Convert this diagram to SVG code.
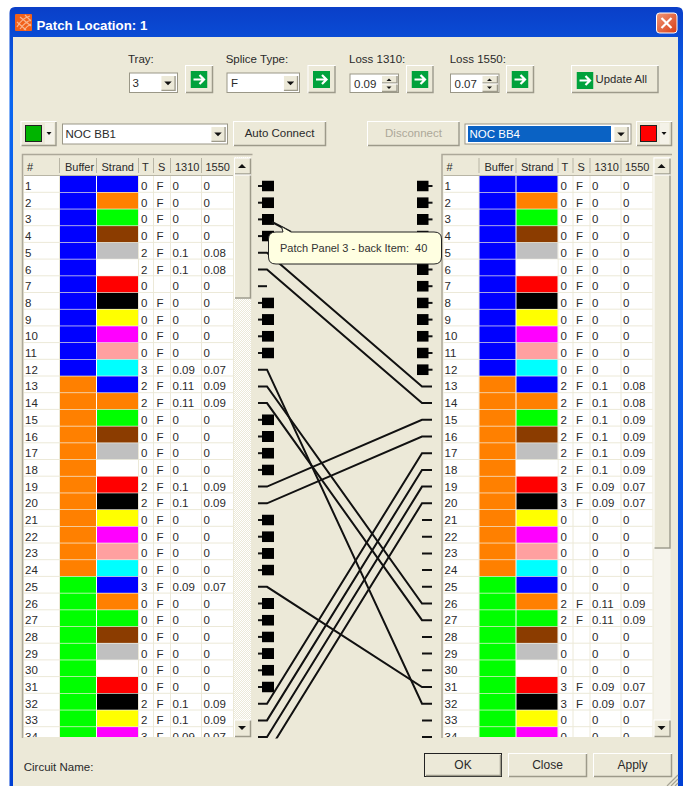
<svg xmlns="http://www.w3.org/2000/svg" xmlns:xlink="http://www.w3.org/1999/xlink" width="686" height="786" viewBox="0 0 686 786">
<style>
text{font-family:"Liberation Sans",Arial,sans-serif;font-size:11.5px;fill:#2a2a2a}
.ui{font-size:11.5px}
.hd{font-size:11px}
.panel{fill:#ece9d8}
.btn{fill:#ece9d8;stroke:#fff;stroke-width:1}
.sh{fill:none;stroke:#9d9a8a;stroke-width:1.5}
.inset{fill:#fff;stroke:#9a9787;stroke-width:1}
.tri{fill:#111}
.sep{stroke:#ece9d8;stroke-width:1;fill:none}
.hsep{stroke:#b8b5a5;stroke-width:1;fill:none}
.wire{fill:none;stroke:#111;stroke-width:2}
.bl{fill:#0000ff}.or{fill:#ff8000}.gr{fill:#00ff00}.br{fill:#8b3c00}.ga{fill:#c0c0c0}.wh{fill:#fff}.re{fill:#ff0000}.ka{fill:#000}.ye{fill:#ffff00}.ma{fill:#ff00ff}.pi{fill:#ffa0a0}.cy{fill:#00ffff}
</style>
<defs>
<linearGradient id="title" x1="0" y1="0" x2="0" y2="1">
<stop offset="0" stop-color="#0a3fc8"/><stop offset=".12" stop-color="#0a66f0"/><stop offset=".5" stop-color="#0a58e6"/><stop offset="1" stop-color="#0040d4"/>
</linearGradient>
<linearGradient id="close" x1="0" y1="0" x2="1" y2="1"><stop offset="0" stop-color="#f09878"/><stop offset="1" stop-color="#d83c14"/></linearGradient>
<pattern id="track" width="2" height="2" patternUnits="userSpaceOnUse"><rect width="2" height="2" fill="#ece9d8"/><rect width="1" height="1" fill="#fff"/><rect x="1" y="1" width="1" height="1" fill="#fff"/></pattern>
<symbol id="go" viewBox="0 0 17 17" width="17" height="17"><rect width="17" height="17" fill="#00a23c"/><path d="M3 8.5H13M9 4l4.5 4.5L9 13" fill="none" stroke="#fff" stroke-width="2.2"/></symbol>
<symbol id="down" viewBox="0 0 16 17" width="16" height="17"><rect x=".5" y=".5" width="15" height="16" class="btn"/><path d="M15.5 1V16.5H1" class="sh"/><path d="M4 7h8l-4 4z" class="tri"/></symbol>
<symbol id="sl" viewBox="0 0 16 11" width="16" height="11"><rect y="4.5" width="5" height="2" fill="#111"/><rect x="4" width="12" height="11" fill="#000"/></symbol>
<symbol id="sr" viewBox="0 0 16 11" width="16" height="11"><rect x="11" y="4.500" width="4.500" height="2" fill="#111"/><rect width="11.5" height="11" fill="#000"/></symbol>
<clipPath id="gridclip"><rect x="24" y="176" width="209" height="561"/></clipPath>
<clipPath id="wireclip"><rect x="250" y="170" width="190" height="568.5"/></clipPath>
<g id="cells">
<rect x="60" y="176" width="36" height="16" class="bl"/><rect x="97" y="176" width="41" height="16" class="bl"/>
<rect x="60" y="192.7" width="36" height="16" class="bl"/><rect x="97" y="192.7" width="41" height="16" class="or"/>
<rect x="60" y="209.4" width="36" height="16" class="bl"/><rect x="97" y="209.4" width="41" height="16" class="gr"/>
<rect x="60" y="226.1" width="36" height="16" class="bl"/><rect x="97" y="226.1" width="41" height="16" class="br"/>
<rect x="60" y="242.8" width="36" height="16" class="bl"/><rect x="97" y="242.8" width="41" height="16" class="ga"/>
<rect x="60" y="259.5" width="36" height="16" class="bl"/><rect x="97" y="259.5" width="41" height="16" class="wh"/>
<rect x="60" y="276.2" width="36" height="16" class="bl"/><rect x="97" y="276.2" width="41" height="16" class="re"/>
<rect x="60" y="292.9" width="36" height="16" class="bl"/><rect x="97" y="292.9" width="41" height="16" class="ka"/>
<rect x="60" y="309.6" width="36" height="16" class="bl"/><rect x="97" y="309.6" width="41" height="16" class="ye"/>
<rect x="60" y="326.3" width="36" height="16" class="bl"/><rect x="97" y="326.3" width="41" height="16" class="ma"/>
<rect x="60" y="343" width="36" height="16" class="bl"/><rect x="97" y="343" width="41" height="16" class="pi"/>
<rect x="60" y="359.7" width="36" height="16" class="bl"/><rect x="97" y="359.7" width="41" height="16" class="cy"/>
<rect x="60" y="376.4" width="36" height="16" class="or"/><rect x="97" y="376.4" width="41" height="16" class="bl"/>
<rect x="60" y="393.1" width="36" height="16" class="or"/><rect x="97" y="393.1" width="41" height="16" class="or"/>
<rect x="60" y="409.8" width="36" height="16" class="or"/><rect x="97" y="409.8" width="41" height="16" class="gr"/>
<rect x="60" y="426.5" width="36" height="16" class="or"/><rect x="97" y="426.5" width="41" height="16" class="br"/>
<rect x="60" y="443.2" width="36" height="16" class="or"/><rect x="97" y="443.2" width="41" height="16" class="ga"/>
<rect x="60" y="459.9" width="36" height="16" class="or"/><rect x="97" y="459.9" width="41" height="16" class="wh"/>
<rect x="60" y="476.6" width="36" height="16" class="or"/><rect x="97" y="476.6" width="41" height="16" class="re"/>
<rect x="60" y="493.3" width="36" height="16" class="or"/><rect x="97" y="493.3" width="41" height="16" class="ka"/>
<rect x="60" y="510" width="36" height="16" class="or"/><rect x="97" y="510" width="41" height="16" class="ye"/>
<rect x="60" y="526.7" width="36" height="16" class="or"/><rect x="97" y="526.7" width="41" height="16" class="ma"/>
<rect x="60" y="543.4" width="36" height="16" class="or"/><rect x="97" y="543.4" width="41" height="16" class="pi"/>
<rect x="60" y="560.1" width="36" height="16" class="or"/><rect x="97" y="560.1" width="41" height="16" class="cy"/>
<rect x="60" y="576.8" width="36" height="16" class="gr"/><rect x="97" y="576.8" width="41" height="16" class="bl"/>
<rect x="60" y="593.5" width="36" height="16" class="gr"/><rect x="97" y="593.5" width="41" height="16" class="or"/>
<rect x="60" y="610.2" width="36" height="16" class="gr"/><rect x="97" y="610.2" width="41" height="16" class="gr"/>
<rect x="60" y="626.9" width="36" height="16" class="gr"/><rect x="97" y="626.9" width="41" height="16" class="br"/>
<rect x="60" y="643.6" width="36" height="16" class="gr"/><rect x="97" y="643.6" width="41" height="16" class="ga"/>
<rect x="60" y="660.3" width="36" height="16" class="gr"/><rect x="97" y="660.3" width="41" height="16" class="wh"/>
<rect x="60" y="677" width="36" height="16" class="gr"/><rect x="97" y="677" width="41" height="16" class="re"/>
<rect x="60" y="693.7" width="36" height="16" class="gr"/><rect x="97" y="693.7" width="41" height="16" class="ka"/>
<rect x="60" y="710.4" width="36" height="16" class="gr"/><rect x="97" y="710.4" width="41" height="16" class="ye"/>
<rect x="60" y="727.1" width="36" height="16" class="gr"/><rect x="97" y="727.1" width="41" height="16" class="ma"/>
</g>
<g id="frame">
<rect x="22" y="155" width="231" height="583" fill="#ece9d8"/>
<path d="M22.5 738V154.5H252.5" fill="none" stroke="#aca899" stroke-width="1.5"/>
<rect x="24" y="176" width="209" height="561" fill="#fff"/>
<path d="M24 175.5H233" stroke="#b8b5a5" fill="none"/>
<path d="M59.5 158v15M96.5 158v15M138.5 158v15M153.5 158v15M170.5 158v15M201.5 158v15" class="hsep"/>
<path d="M138.5 176V737M153.5 176V737M170.5 176V737M201.5 176V737M59.5 176V737" class="sep"/>
<path d="M24 192.3H233M24 209H233M24 225.7H233M24 242.4H233M24 259.1H233M24 275.8H233M24 292.5H233M24 309.2H233M24 325.9H233M24 342.6H233M24 359.3H233M24 376H233M24 392.7H233M24 409.4H233M24 426.1H233M24 442.8H233M24 459.5H233M24 476.2H233M24 492.9H233M24 509.6H233M24 526.3H233M24 543H233M24 559.7H233M24 576.4H233M24 593.1H233M24 609.8H233M24 626.5H233M24 643.2H233M24 659.9H233M24 676.6H233M24 693.3H233M24 710H233M24 726.7H233" class="sep"/>
<g clip-path="url(#gridclip)"><use href="#cells" xlink:href="#cells"/></g>
<text x="27" y="171" class="hd">#</text><text x="65" y="171" class="hd">Buffer</text><text x="101.5" y="171" class="hd">Strand</text><text x="142" y="171" class="hd">T</text><text x="158" y="171" class="hd">S</text><text x="175" y="171" class="hd">1310</text><text x="205.5" y="171" class="hd">1550</text>
</g>
</defs>

<g id="window">
<path d="M9.5 786V13Q9.5 7 15 7H677Q683 7 683 13V786Z" fill="url(#title)"/>
<rect x="13" y="37" width="665" height="749" class="panel"/>
<path d="M671 786L678 779M675 786L678 783M667 786L678 775" stroke="#a5a294" stroke-width="1.2" fill="none"/>
<g id="title-icon"><rect x="15" y="14" width="17" height="17" rx="1" fill="#f2601a"/><path d="M17 27Q22 18 30 16M20 29Q25 22 31 20M24 30Q27 26 31 24M17 22L26 30M20 17L31 26M25 15L31 21" stroke="#f8b48c" stroke-width="1.2" fill="none"/></g>
<text x="36.5" y="29.5" style="font-size:13.3px;font-weight:700;fill:#fff">Patch Location: 1</text>
<g id="close-button"><rect x="656.5" y="13" width="20.5" height="20" rx="3" fill="url(#close)" stroke="#fff"/><path d="M661.5 18l10 10M671.5 18l-10 10" stroke="#fff" stroke-width="2.2" fill="none"/></g>
</g>

<g id="tray">
<text x="128" y="63" class="ui">Tray:</text>
<rect x="129.5" y="73" width="48" height="19.5" class="inset"/>
<text x="132.5" y="87" class="ui">3</text>
<use href="#down" xlink:href="#down" x="160" y="75" width="16" height="16"/>
<rect x="185.5" y="65.5" width="27" height="27" class="btn"/><path d="M212.5 66V92.5H186" class="sh"/>
<use href="#go" xlink:href="#go" x="190.5" y="71"/>
</g>
<g id="splice-type">
<text x="225.7" y="63" class="ui">Splice Type:</text>
<rect x="227" y="73" width="72.5" height="19.5" class="inset"/>
<text x="231" y="87" class="ui">F</text>
<use href="#down" xlink:href="#down" x="282.5" y="75" width="16" height="16"/>
<rect x="308" y="65.5" width="27" height="27" class="btn"/><path d="M335 66V92.5H308.5" class="sh"/>
<use href="#go" xlink:href="#go" x="313" y="71"/>
</g>
<g id="loss-1310">
<text x="349" y="63" class="ui">Loss 1310:</text>
<rect x="350" y="74" width="48.5" height="18.5" class="inset"/>
<text x="354" y="88" class="ui">0.09</text>
<rect x="381.5" y="75.5" width="15.5" height="7.5" class="btn"/><path d="M397 76V83H382" class="sh"/><path d="M386.5 81h5l-2.5-2.5z" class="tri"/>
<rect x="381.5" y="84" width="15.5" height="7.5" class="btn"/><path d="M397 84.5V91.5H382" class="sh"/><path d="M386.5 86.5h5l-2.5 2.5z" class="tri"/>
<rect x="406.5" y="65.5" width="26.5" height="27" class="btn"/><path d="M433 66V92.5H407" class="sh"/>
<use href="#go" xlink:href="#go" x="411.5" y="71"/>
</g>
<g id="loss-1550">
<text x="449.7" y="63" class="ui">Loss 1550:</text>
<rect x="450.5" y="74" width="48.5" height="18.5" class="inset"/>
<text x="454.5" y="88" class="ui">0.07</text>
<rect x="482" y="75.5" width="15.5" height="7.5" class="btn"/><path d="M497.5 76V83H482.5" class="sh"/><path d="M487 81h5l-2.5-2.5z" class="tri"/>
<rect x="482" y="84" width="15.5" height="7.5" class="btn"/><path d="M497.5 84.5V91.5H482.5" class="sh"/><path d="M487 86.5h5l-2.5 2.5z" class="tri"/>
<rect x="506.5" y="65.5" width="27" height="27" class="btn"/><path d="M533.5 66V92.5H507" class="sh"/>
<use href="#go" xlink:href="#go" x="511.5" y="71"/>
</g>
<g id="update-all">
<rect x="571.5" y="65.5" width="86.5" height="27" class="btn"/><path d="M658 66V92.5H572" class="sh"/>
<use href="#go" xlink:href="#go" x="576.5" y="72"/>
<text x="595.5" y="83" class="ui" style="font-size:11.3px">Update All</text>
</g>

<g id="left-selector">
<rect x="21" y="121.5" width="35" height="24" class="btn"/><path d="M56 122V145.5H21.5" class="sh"/>
<rect x="25.5" y="125.5" width="16" height="16" fill="#00b400" stroke="#222"/>
<rect x="45" y="123" width="9" height="21" fill="#f4f2e8"/><path d="M46.5 132h5l-2.500 3z" class="tri"/>
<rect x="62.5" y="124" width="165" height="20" class="inset"/>
<text x="65.5" y="138" class="ui">NOC BB1</text>
<use href="#down" xlink:href="#down" x="210" y="126" width="16" height="16"/>
</g>
<g id="auto-connect">
<rect x="233.5" y="121.5" width="92" height="24" class="btn"/><path d="M325.5 122V145.5H234" class="sh"/>
<text x="279.5" y="137" text-anchor="middle" class="ui">Auto Connect</text>
</g>
<g id="disconnect">
<rect x="367.5" y="121.5" width="91.5" height="24" class="btn"/><path d="M459 122V145.5H368" class="sh"/>
<text x="413.5" y="137" text-anchor="middle" class="ui" style="fill:#aca899">Disconnect</text>
</g>
<g id="right-selector">
<rect x="465" y="124" width="166" height="20" class="inset"/>
<rect x="468" y="126" width="143" height="16" fill="#0a62c4"/>
<text x="469.5" y="138" class="ui" style="fill:#fff">NOC BB4</text>
<use href="#down" xlink:href="#down" x="613" y="126" width="16" height="16"/>
<rect x="636.5" y="121.5" width="35" height="24" class="btn"/><path d="M671.5 122V145.5H637" class="sh"/>
<rect x="640.5" y="125.5" width="16" height="16" fill="#ff0000" stroke="#222"/>
<rect x="660" y="123" width="9" height="21" fill="#f4f2e8"/><path d="M661.5 132h5l-2.500 3z" class="tri"/>
</g>

<g id="left-table">
<use href="#frame" xlink:href="#frame"/>
<g clip-path="url(#gridclip)">
<text y="190"><tspan x="25">1</tspan><tspan x="141">0</tspan><tspan x="156.5">F</tspan><tspan x="172.5">0</tspan><tspan x="203.5">0</tspan></text>
<text y="206.7"><tspan x="25">2</tspan><tspan x="141">0</tspan><tspan x="156.5">F</tspan><tspan x="172.5">0</tspan><tspan x="203.5">0</tspan></text>
<text y="223.4"><tspan x="25">3</tspan><tspan x="141">0</tspan><tspan x="156.5">F</tspan><tspan x="172.5">0</tspan><tspan x="203.5">0</tspan></text>
<text y="240.1"><tspan x="25">4</tspan><tspan x="141">0</tspan><tspan x="156.5">F</tspan><tspan x="172.5">0</tspan><tspan x="203.5">0</tspan></text>
<text y="256.8"><tspan x="25">5</tspan><tspan x="141">2</tspan><tspan x="156.5">F</tspan><tspan x="172.5">0.1</tspan><tspan x="203.5">0.08</tspan></text>
<text y="273.5"><tspan x="25">6</tspan><tspan x="141">2</tspan><tspan x="156.5">F</tspan><tspan x="172.5">0.1</tspan><tspan x="203.5">0.08</tspan></text>
<text y="290.2"><tspan x="25">7</tspan><tspan x="141">0</tspan><tspan x="172.5">0</tspan><tspan x="203.5">0</tspan></text>
<text y="306.9"><tspan x="25">8</tspan><tspan x="141">0</tspan><tspan x="156.5">F</tspan><tspan x="172.5">0</tspan><tspan x="203.5">0</tspan></text>
<text y="323.6"><tspan x="25">9</tspan><tspan x="141">0</tspan><tspan x="156.5">F</tspan><tspan x="172.5">0</tspan><tspan x="203.5">0</tspan></text>
<text y="340.3"><tspan x="25">10</tspan><tspan x="141">0</tspan><tspan x="156.5">F</tspan><tspan x="172.5">0</tspan><tspan x="203.5">0</tspan></text>
<text y="357"><tspan x="25">11</tspan><tspan x="141">0</tspan><tspan x="156.5">F</tspan><tspan x="172.5">0</tspan><tspan x="203.5">0</tspan></text>
<text y="373.7"><tspan x="25">12</tspan><tspan x="141">3</tspan><tspan x="156.5">F</tspan><tspan x="172.5">0.09</tspan><tspan x="203.5">0.07</tspan></text>
<text y="390.4"><tspan x="25">13</tspan><tspan x="141">2</tspan><tspan x="156.5">F</tspan><tspan x="172.5">0.11</tspan><tspan x="203.5">0.09</tspan></text>
<text y="407.1"><tspan x="25">14</tspan><tspan x="141">2</tspan><tspan x="156.5">F</tspan><tspan x="172.5">0.11</tspan><tspan x="203.5">0.09</tspan></text>
<text y="423.8"><tspan x="25">15</tspan><tspan x="141">0</tspan><tspan x="156.5">F</tspan><tspan x="172.5">0</tspan><tspan x="203.5">0</tspan></text>
<text y="440.5"><tspan x="25">16</tspan><tspan x="141">0</tspan><tspan x="156.5">F</tspan><tspan x="172.5">0</tspan><tspan x="203.5">0</tspan></text>
<text y="457.2"><tspan x="25">17</tspan><tspan x="141">0</tspan><tspan x="156.5">F</tspan><tspan x="172.5">0</tspan><tspan x="203.5">0</tspan></text>
<text y="473.9"><tspan x="25">18</tspan><tspan x="141">0</tspan><tspan x="156.5">F</tspan><tspan x="172.5">0</tspan><tspan x="203.5">0</tspan></text>
<text y="490.6"><tspan x="25">19</tspan><tspan x="141">2</tspan><tspan x="156.5">F</tspan><tspan x="172.5">0.1</tspan><tspan x="203.5">0.09</tspan></text>
<text y="507.3"><tspan x="25">20</tspan><tspan x="141">2</tspan><tspan x="156.5">F</tspan><tspan x="172.5">0.1</tspan><tspan x="203.5">0.09</tspan></text>
<text y="524"><tspan x="25">21</tspan><tspan x="141">0</tspan><tspan x="156.5">F</tspan><tspan x="172.5">0</tspan><tspan x="203.5">0</tspan></text>
<text y="540.7"><tspan x="25">22</tspan><tspan x="141">0</tspan><tspan x="156.5">F</tspan><tspan x="172.5">0</tspan><tspan x="203.5">0</tspan></text>
<text y="557.4"><tspan x="25">23</tspan><tspan x="141">0</tspan><tspan x="156.5">F</tspan><tspan x="172.5">0</tspan><tspan x="203.5">0</tspan></text>
<text y="574.1"><tspan x="25">24</tspan><tspan x="141">0</tspan><tspan x="156.5">F</tspan><tspan x="172.5">0</tspan><tspan x="203.5">0</tspan></text>
<text y="590.8"><tspan x="25">25</tspan><tspan x="141">3</tspan><tspan x="156.5">F</tspan><tspan x="172.5">0.09</tspan><tspan x="203.5">0.07</tspan></text>
<text y="607.5"><tspan x="25">26</tspan><tspan x="141">0</tspan><tspan x="156.5">F</tspan><tspan x="172.5">0</tspan><tspan x="203.5">0</tspan></text>
<text y="624.2"><tspan x="25">27</tspan><tspan x="141">0</tspan><tspan x="156.5">F</tspan><tspan x="172.5">0</tspan><tspan x="203.5">0</tspan></text>
<text y="640.9"><tspan x="25">28</tspan><tspan x="141">0</tspan><tspan x="156.5">F</tspan><tspan x="172.5">0</tspan><tspan x="203.5">0</tspan></text>
<text y="657.6"><tspan x="25">29</tspan><tspan x="141">0</tspan><tspan x="156.5">F</tspan><tspan x="172.5">0</tspan><tspan x="203.5">0</tspan></text>
<text y="674.3"><tspan x="25">30</tspan><tspan x="141">0</tspan><tspan x="156.5">F</tspan><tspan x="172.5">0</tspan><tspan x="203.5">0</tspan></text>
<text y="691"><tspan x="25">31</tspan><tspan x="141">0</tspan><tspan x="156.5">F</tspan><tspan x="172.5">0</tspan><tspan x="203.5">0</tspan></text>
<text y="707.7"><tspan x="25">32</tspan><tspan x="141">2</tspan><tspan x="156.5">F</tspan><tspan x="172.5">0.1</tspan><tspan x="203.5">0.09</tspan></text>
<text y="724.4"><tspan x="25">33</tspan><tspan x="141">2</tspan><tspan x="156.5">F</tspan><tspan x="172.5">0.1</tspan><tspan x="203.5">0.09</tspan></text>
<text y="741.1"><tspan x="25">34</tspan><tspan x="141">3</tspan><tspan x="156.5">F</tspan><tspan x="172.5">0.09</tspan><tspan x="203.5">0.07</tspan></text>
</g>
<g id="left-scrollbar">
<rect x="234" y="157" width="17" height="580" fill="url(#track)"/>
<rect x="234.5" y="158" width="16" height="16" class="btn"/><path d="M250.5 158.5V174H235" class="sh"/><path d="M238 168h8l-4-4z" class="tri"/>
<rect x="234.5" y="175" width="16" height="123" class="btn"/><path d="M250.5 175.5V298H235" class="sh"/>
<rect x="234.5" y="720" width="16" height="16.5" class="btn"/><path d="M250.5 720.5V736.5H235" class="sh"/><path d="M238 726h8l-4 4z" class="tri"/>
</g>
</g>

<g id="right-table" transform="translate(419.5 0)">
<use href="#frame" xlink:href="#frame"/>
<g clip-path="url(#gridclip)">
<text y="190"><tspan x="25">1</tspan><tspan x="141">0</tspan><tspan x="156.5">F</tspan><tspan x="172.5">0</tspan><tspan x="203.5">0</tspan></text>
<text y="206.7"><tspan x="25">2</tspan><tspan x="141">0</tspan><tspan x="156.5">F</tspan><tspan x="172.5">0</tspan><tspan x="203.5">0</tspan></text>
<text y="223.4"><tspan x="25">3</tspan><tspan x="141">0</tspan><tspan x="156.5">F</tspan><tspan x="172.5">0</tspan><tspan x="203.5">0</tspan></text>
<text y="240.1"><tspan x="25">4</tspan><tspan x="141">0</tspan><tspan x="156.5">F</tspan><tspan x="172.5">0</tspan><tspan x="203.5">0</tspan></text>
<text y="256.8"><tspan x="25">5</tspan><tspan x="141">0</tspan><tspan x="156.5">F</tspan><tspan x="172.5">0</tspan><tspan x="203.5">0</tspan></text>
<text y="273.5"><tspan x="25">6</tspan><tspan x="141">0</tspan><tspan x="156.5">F</tspan><tspan x="172.5">0</tspan><tspan x="203.5">0</tspan></text>
<text y="290.2"><tspan x="25">7</tspan><tspan x="141">0</tspan><tspan x="156.5">F</tspan><tspan x="172.5">0</tspan><tspan x="203.5">0</tspan></text>
<text y="306.9"><tspan x="25">8</tspan><tspan x="141">0</tspan><tspan x="156.5">F</tspan><tspan x="172.5">0</tspan><tspan x="203.5">0</tspan></text>
<text y="323.6"><tspan x="25">9</tspan><tspan x="141">0</tspan><tspan x="156.5">F</tspan><tspan x="172.5">0</tspan><tspan x="203.5">0</tspan></text>
<text y="340.3"><tspan x="25">10</tspan><tspan x="141">0</tspan><tspan x="156.5">F</tspan><tspan x="172.5">0</tspan><tspan x="203.5">0</tspan></text>
<text y="357"><tspan x="25">11</tspan><tspan x="141">0</tspan><tspan x="156.5">F</tspan><tspan x="172.5">0</tspan><tspan x="203.5">0</tspan></text>
<text y="373.7"><tspan x="25">12</tspan><tspan x="141">0</tspan><tspan x="156.5">F</tspan><tspan x="172.5">0</tspan><tspan x="203.5">0</tspan></text>
<text y="390.4"><tspan x="25">13</tspan><tspan x="141">2</tspan><tspan x="156.5">F</tspan><tspan x="172.5">0.1</tspan><tspan x="203.5">0.08</tspan></text>
<text y="407.1"><tspan x="25">14</tspan><tspan x="141">2</tspan><tspan x="156.5">F</tspan><tspan x="172.5">0.1</tspan><tspan x="203.5">0.08</tspan></text>
<text y="423.8"><tspan x="25">15</tspan><tspan x="141">2</tspan><tspan x="156.5">F</tspan><tspan x="172.5">0.1</tspan><tspan x="203.5">0.09</tspan></text>
<text y="440.5"><tspan x="25">16</tspan><tspan x="141">2</tspan><tspan x="156.5">F</tspan><tspan x="172.5">0.1</tspan><tspan x="203.5">0.09</tspan></text>
<text y="457.2"><tspan x="25">17</tspan><tspan x="141">2</tspan><tspan x="156.5">F</tspan><tspan x="172.5">0.1</tspan><tspan x="203.5">0.09</tspan></text>
<text y="473.9"><tspan x="25">18</tspan><tspan x="141">2</tspan><tspan x="156.5">F</tspan><tspan x="172.5">0.1</tspan><tspan x="203.5">0.09</tspan></text>
<text y="490.6"><tspan x="25">19</tspan><tspan x="141">3</tspan><tspan x="156.5">F</tspan><tspan x="172.5">0.09</tspan><tspan x="203.5">0.07</tspan></text>
<text y="507.3"><tspan x="25">20</tspan><tspan x="141">3</tspan><tspan x="156.5">F</tspan><tspan x="172.5">0.09</tspan><tspan x="203.5">0.07</tspan></text>
<text y="524"><tspan x="25">21</tspan><tspan x="141">0</tspan><tspan x="172.5">0</tspan><tspan x="203.5">0</tspan></text>
<text y="540.7"><tspan x="25">22</tspan><tspan x="141">0</tspan><tspan x="172.5">0</tspan><tspan x="203.5">0</tspan></text>
<text y="557.4"><tspan x="25">23</tspan><tspan x="141">0</tspan><tspan x="172.5">0</tspan><tspan x="203.5">0</tspan></text>
<text y="574.1"><tspan x="25">24</tspan><tspan x="141">0</tspan><tspan x="172.5">0</tspan><tspan x="203.5">0</tspan></text>
<text y="590.8"><tspan x="25">25</tspan><tspan x="141">0</tspan><tspan x="172.5">0</tspan><tspan x="203.5">0</tspan></text>
<text y="607.5"><tspan x="25">26</tspan><tspan x="141">2</tspan><tspan x="156.5">F</tspan><tspan x="172.5">0.11</tspan><tspan x="203.5">0.09</tspan></text>
<text y="624.2"><tspan x="25">27</tspan><tspan x="141">2</tspan><tspan x="156.5">F</tspan><tspan x="172.5">0.11</tspan><tspan x="203.5">0.09</tspan></text>
<text y="640.9"><tspan x="25">28</tspan><tspan x="141">0</tspan><tspan x="172.5">0</tspan><tspan x="203.5">0</tspan></text>
<text y="657.6"><tspan x="25">29</tspan><tspan x="141">0</tspan><tspan x="172.5">0</tspan><tspan x="203.5">0</tspan></text>
<text y="674.3"><tspan x="25">30</tspan><tspan x="141">0</tspan><tspan x="172.5">0</tspan><tspan x="203.5">0</tspan></text>
<text y="691"><tspan x="25">31</tspan><tspan x="141">3</tspan><tspan x="156.5">F</tspan><tspan x="172.5">0.09</tspan><tspan x="203.5">0.07</tspan></text>
<text y="707.7"><tspan x="25">32</tspan><tspan x="141">3</tspan><tspan x="156.5">F</tspan><tspan x="172.5">0.09</tspan><tspan x="203.5">0.07</tspan></text>
<text y="724.4"><tspan x="25">33</tspan><tspan x="141">0</tspan><tspan x="172.5">0</tspan><tspan x="203.5">0</tspan></text>
<text y="741.1"><tspan x="25">34</tspan><tspan x="141">0</tspan><tspan x="172.5">0</tspan><tspan x="203.5">0</tspan></text>
</g>
<g id="right-scrollbar">
<rect x="234" y="157" width="17" height="580" fill="url(#track)"/>
<rect x="234.5" y="158" width="16" height="16" class="btn"/><path d="M250.5 158.5V174H235" class="sh"/><path d="M238 168h8l-4-4z" class="tri"/>
<rect x="234.5" y="175" width="16" height="373" class="btn"/><path d="M250.5 175.5V548H235" class="sh"/>
<rect x="234.5" y="720" width="16" height="16.5" class="btn"/><path d="M250.5 720.5V736.5H235" class="sh"/><path d="M238 726h8l-4 4z" class="tri"/>
</g>
</g>

<g id="connectors" clip-path="url(#wireclip)">
<g id="left-terminals">
<use href="#sl" xlink:href="#sl" x="258" y="180.5"/><use href="#sl" xlink:href="#sl" x="258" y="197.2"/><use href="#sl" xlink:href="#sl" x="258" y="213.9"/><use href="#sl" xlink:href="#sl" x="258" y="230.6"/>
<use href="#sl" xlink:href="#sl" x="258" y="297.4"/><use href="#sl" xlink:href="#sl" x="258" y="314.1"/><use href="#sl" xlink:href="#sl" x="258" y="330.8"/><use href="#sl" xlink:href="#sl" x="258" y="347.5"/>
<use href="#sl" xlink:href="#sl" x="258" y="414.3"/><use href="#sl" xlink:href="#sl" x="258" y="431"/><use href="#sl" xlink:href="#sl" x="258" y="447.7"/><use href="#sl" xlink:href="#sl" x="258" y="464.4"/>
<use href="#sl" xlink:href="#sl" x="258" y="514.5"/><use href="#sl" xlink:href="#sl" x="258" y="531.2"/><use href="#sl" xlink:href="#sl" x="258" y="547.9"/><use href="#sl" xlink:href="#sl" x="258" y="564.6"/>
<use href="#sl" xlink:href="#sl" x="258" y="598"/><use href="#sl" xlink:href="#sl" x="258" y="614.7"/><use href="#sl" xlink:href="#sl" x="258" y="631.4"/><use href="#sl" xlink:href="#sl" x="258" y="648.1"/><use href="#sl" xlink:href="#sl" x="258" y="664.8"/><use href="#sl" xlink:href="#sl" x="258" y="681.5"/>
<path d="M258 286.2H267" class="wire"/>
</g>
<g id="right-terminals">
<use href="#sr" xlink:href="#sr" x="417" y="180.5"/><use href="#sr" xlink:href="#sr" x="417" y="197.2"/><use href="#sr" xlink:href="#sr" x="417" y="213.9"/><use href="#sr" xlink:href="#sr" x="417" y="230.6"/><use href="#sr" xlink:href="#sr" x="417" y="247.3"/><use href="#sr" xlink:href="#sr" x="417" y="264"/><use href="#sr" xlink:href="#sr" x="417" y="280.7"/><use href="#sr" xlink:href="#sr" x="417" y="297.4"/><use href="#sr" xlink:href="#sr" x="417" y="314.1"/><use href="#sr" xlink:href="#sr" x="417" y="330.8"/><use href="#sr" xlink:href="#sr" x="417" y="347.5"/><use href="#sr" xlink:href="#sr" x="417" y="364.2"/>
<path d="M422 520H432M422 536.7H432M422 553.4H432M422 570.1H432M422 586.8H432M422 636.9H432M422 653.6H432M422 670.3H432M422 720.4H432M422 737.1H432" class="wire"/>
</g>
<polyline points="258,252.8 267,252.8 422,386.4 432,386.4" class="wire"/>
<polyline points="258,269.5 267,269.5 422,403.1 432,403.1" class="wire"/>
<polyline points="258,369.7 267,369.7 422,703.7 432,703.7" class="wire"/>
<polyline points="258,386.4 267,386.4 422,603.5 432,603.5" class="wire"/>
<polyline points="258,403.1 267,403.1 422,620.2 432,620.2" class="wire"/>
<polyline points="258,486.6 267,486.6 422,419.8 432,419.8" class="wire"/>
<polyline points="258,503.3 267,503.3 422,436.5 432,436.5" class="wire"/>
<polyline points="258,586.8 267,586.8 422,687 432,687" class="wire"/>
<polyline points="258,703.7 267,703.7 422,453.2 432,453.2" class="wire"/>
<polyline points="258,720.4 267,720.4 422,469.9 432,469.9" class="wire"/>
<polyline points="258,737.1 267,737.1 422,486.6 432,486.6" class="wire"/>
<polyline points="258,753.8 267,753.8 422,503.3 432,503.3" class="wire"/>
<path d="M272 222L291 232" class="wire"/>
</g>

<g id="tooltip">
<path d="M276 232H283L281.5 226.5L291 232H434Q441.5 232 441.5 239V257Q441.5 264 434 264H276Q268.5 264 268.5 257V239Q268.5 232 276 232Z" fill="#ffffe1" stroke="#222" stroke-width="1"/>
<text x="280" y="252" xml:space="preserve" style="font-size:11px;fill:#333;white-space:pre">Patch Panel 3 - back Item:  40</text>
</g>

<g id="footer">
<text x="23.7" y="771" class="ui">Circuit Name:</text>
<g id="ok"><rect x="424.5" y="753.5" width="77" height="23" class="btn" style="stroke:#222"/><path d="M426 775.5H500.5V755" class="sh"/><text x="463" y="769" text-anchor="middle" style="font-size:12px">OK</text></g>
<g id="close-btn"><rect x="508.5" y="753.5" width="78" height="23" class="btn"/><path d="M586.5 754V776.5H509" class="sh"/><text x="547.5" y="769" text-anchor="middle" style="font-size:12px">Close</text></g>
<g id="apply"><rect x="593.5" y="753.5" width="78" height="23" class="btn"/><path d="M671.5 754V776.5H594" class="sh"/><text x="632.5" y="769" text-anchor="middle" style="font-size:12px">Apply</text></g>
</g>
</svg>
